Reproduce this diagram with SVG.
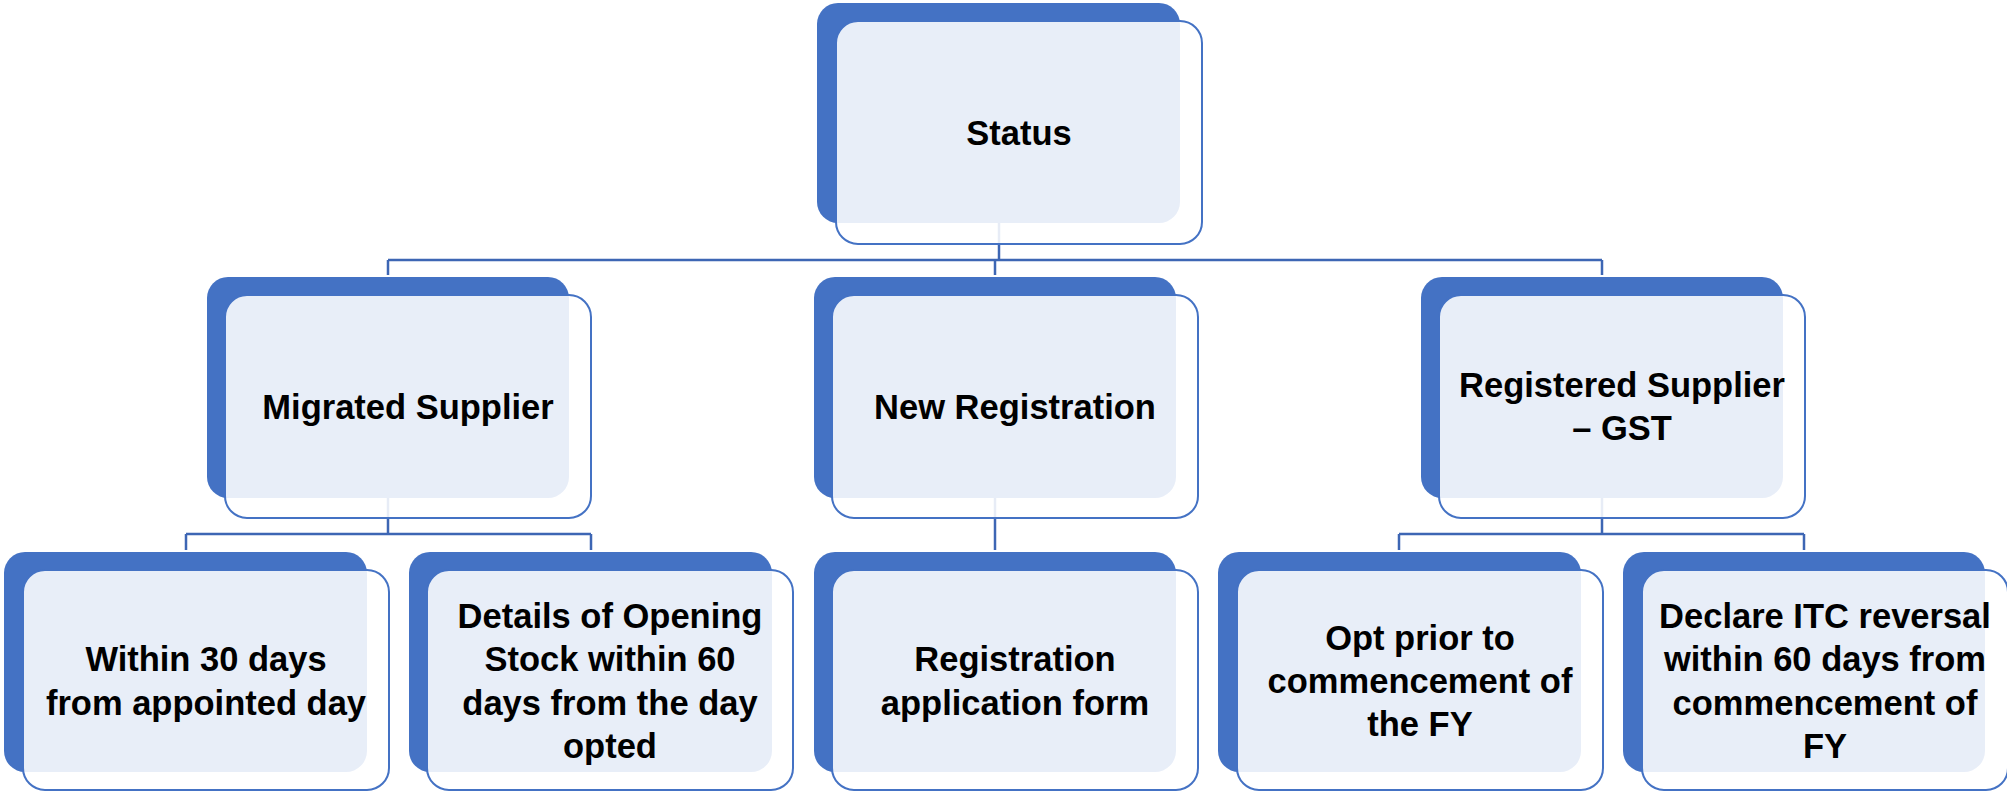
<svg xmlns="http://www.w3.org/2000/svg" width="2007" height="791" viewBox="0 0 2007 791">
  <style>
    .back { fill: #4472C4; }
    .front { fill: #FFFFFF; fill-opacity: 0.88; stroke: #4472C4; stroke-width: 2; }
    .label { font-family: "Liberation Sans", Arial, sans-serif; font-weight: bold; font-size: 34.5px; fill: #000000; text-anchor: middle; }
    .conn { fill: none; stroke: #3D66B4; stroke-width: 2.5; }
  </style>
  <rect width="2007" height="791" fill="#FFFFFF"/>

  <!-- connectors (drawn first so the cards sit on top) -->
  <g id="connectors">
    <path class="conn" d="M999 223 V260"/>
    <path class="conn" d="M388 260 H1602"/>
    <path class="conn" d="M388 260 V275 M995 260 V275 M1602 260 V275"/>

    <path class="conn" d="M388 498 V534 M186 534 H591 M186 534 V550 M591 534 V550"/>
    <path class="conn" d="M995 498 V550"/>
    <path class="conn" d="M1602 498 V534 M1399 534 H1804 M1399 534 V550 M1804 534 V550"/>
  </g>

  <!-- level 0 -->
  <g id="node-status">
    <rect class="back" x="817" y="3" width="363" height="220" rx="21"/>
    <rect class="front" x="836" y="21" width="366" height="223" rx="22"/>
    <text class="label" x="1019" y="144.5">Status</text>
  </g>

  <!-- level 1 -->
  <g id="node-migrated">
    <rect class="back" x="207" y="277" width="362" height="221" rx="21"/>
    <rect class="front" x="225" y="295" width="366" height="223" rx="22"/>
    <text class="label" x="408" y="418.5">Migrated Supplier</text>
  </g>
  <g id="node-new-registration">
    <rect class="back" x="814" y="277" width="362" height="221" rx="21"/>
    <rect class="front" x="832" y="295" width="366" height="223" rx="22"/>
    <text class="label" x="1015" y="418.5">New Registration</text>
  </g>
  <g id="node-registered">
    <rect class="back" x="1421" y="277" width="362" height="221" rx="21"/>
    <rect class="front" x="1439" y="295" width="366" height="223" rx="22"/>
    <text class="label" x="1622" y="397">Registered Supplier</text>
    <text class="label" x="1622" y="440">– GST</text>
  </g>

  <!-- level 2 -->
  <g id="node-within-30">
    <rect class="back" x="4" y="552" width="363" height="220" rx="21"/>
    <rect class="front" x="23" y="570" width="366" height="220" rx="22"/>
    <text class="label" x="206" y="671.4">Within 30 days</text>
    <text class="label" x="206" y="714.7">from appointed day</text>
  </g>
  <g id="node-opening-stock">
    <rect class="back" x="409" y="552" width="363" height="220" rx="21"/>
    <rect class="front" x="427" y="570" width="366" height="220" rx="22"/>
    <text class="label" x="610" y="628">Details of Opening</text>
    <text class="label" x="610" y="671.3">Stock within 60</text>
    <text class="label" x="610" y="714.6">days from the day</text>
    <text class="label" x="610" y="758">opted</text>
  </g>
  <g id="node-application-form">
    <rect class="back" x="814" y="552" width="362" height="220" rx="21"/>
    <rect class="front" x="832" y="570" width="366" height="220" rx="22"/>
    <text class="label" x="1015" y="671.4">Registration</text>
    <text class="label" x="1015" y="714.7">application form</text>
  </g>
  <g id="node-opt-prior">
    <rect class="back" x="1218" y="552" width="363" height="220" rx="21"/>
    <rect class="front" x="1237" y="570" width="366" height="220" rx="22"/>
    <text class="label" x="1420" y="649.7">Opt prior to</text>
    <text class="label" x="1420" y="693">commencement of</text>
    <text class="label" x="1420" y="736.3">the FY</text>
  </g>
  <g id="node-itc-reversal">
    <rect class="back" x="1623" y="552" width="362" height="220" rx="21"/>
    <rect class="front" x="1642" y="570" width="366" height="220" rx="22"/>
    <text class="label" x="1825" y="628">Declare ITC reversal</text>
    <text class="label" x="1825" y="671.3">within 60 days from</text>
    <text class="label" x="1825" y="714.6">commencement of</text>
    <text class="label" x="1825" y="758">FY</text>
  </g>
</svg>
